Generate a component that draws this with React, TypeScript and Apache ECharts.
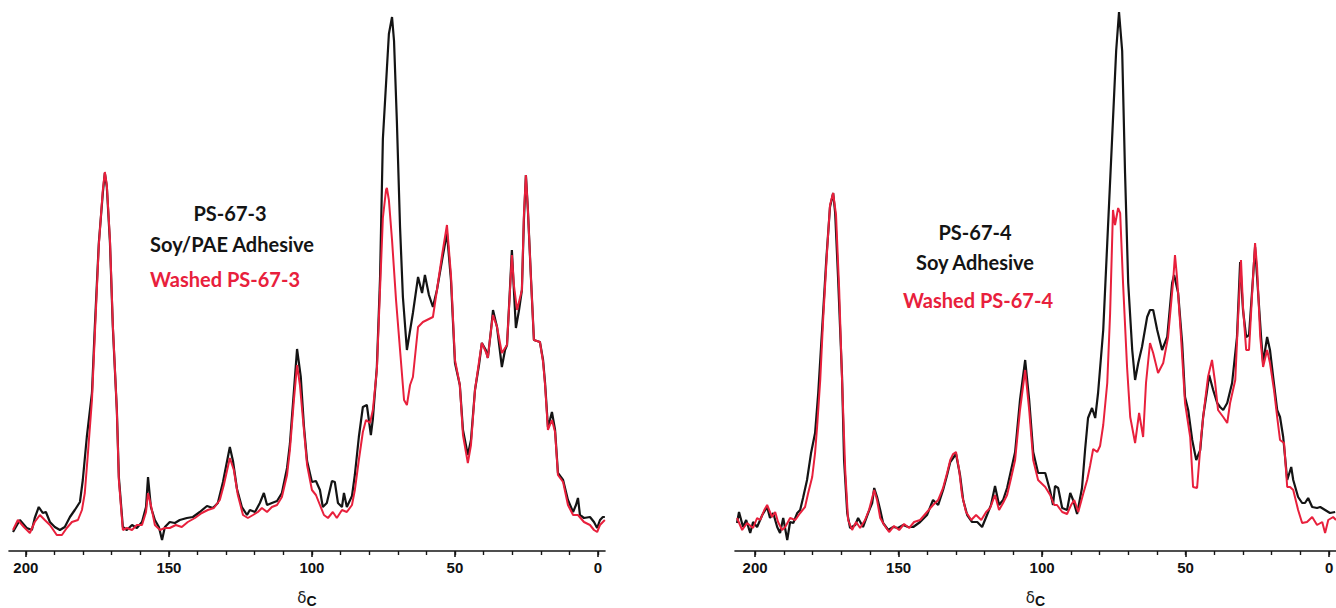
import React, { useEffect, useRef } from "react";
import * as echarts from "echarts";

// 13C CP/MAS NMR spectra: [chemical shift δC (ppm), intensity (a.u.)]
const PS673_ORIGINAL: number[][] = [
  [204.5,19],[202.1,31],[199.7,23],[197.9,21],[196.9,33],[195.5,44],[194.1,38],[193.0,39],[191.6,29],[189.9,24],
  [188.1,21],[186.4,24],[184.6,34],[182.9,41],[181.1,49],[180.1,71],[178.7,114],[176.9,158],[175.9,224],[174.5,308],
  [173.1,358],[172.4,378],[171.7,364],[170.6,308],[169.6,224],[168.2,141],[167.5,74],[166.1,24],[164.7,21],[162.9,26],
  [161.2,23],[159.4,29],[158.0,44],[157.3,74],[156.3,44],[154.9,31],[153.5,24],[152.4,11],[151.4,24],[149.7,29],
  [147.9,28],[146.2,31],[143.7,33],[141.6,34],[139.2,39],[136.7,45],[134.6,43],[132.9,48],[131.1,69],[128.7,104],
  [127.6,90],[126.2,62],[124.5,44],[122.7,36],[121.7,41],[119.9,39],[118.2,48],[116.8,58],[115.7,46],[114.0,48],
  [112.2,50],[110.5,58],[108.7,83],[107.7,107],[106.3,160],[105.2,202],[103.9,174],[102.8,125],[101.7,90],[100.0,69],
  [98.6,70],[97.2,61],[96.2,44],[94.8,48],[93.0,70],[92.0,69],[90.9,48],[89.5,44],[88.8,58],[87.8,44],
  [86.0,55],[85.0,76],[83.6,114],[82.2,144],[80.8,146],[79.4,116],[78.7,132],[77.3,184],[76.2,272],[75.2,412],
  [73.8,482],[73.1,517],[72.0,534],[71.3,510],[70.3,429],[69.2,324],[68.2,254],[66.8,201],[64.7,238],[62.9,274],
  [61.5,258],[60.5,276],[59.1,256],[57.7,244],[56.3,261],[54.5,291],[52.8,318],[51.4,271],[50.0,188],[48.3,166],
  [47.2,121],[45.5,96],[44.4,111],[43.0,161],[41.6,186],[40.6,208],[39.2,201],[38.5,193],[37.4,221],[36.7,241],
  [35.3,224],[33.6,184],[32.5,201],[31.8,206],[30.8,261],[30.1,301],[29.4,261],[28.7,223],[27.6,241],[26.6,261],
  [25.9,331],[25.2,376],[24.5,341],[23.4,271],[22.4,211],[20.3,209],[19.2,191],[18.5,168],[17.5,124],[16.8,131],
  [16.1,139],[15.0,121],[14.0,78],[12.2,71],[10.5,51],[8.7,39],[7.7,46],[7.0,53],[6.3,36],[4.9,33],
  [2.8,34],[1.4,29],[0.3,23],[-0.7,31],[-1.7,34],[-2.4,34]
];

const PS673_WASHED: number[][] = [
  [204.5,21],[202.8,31],[200.7,24],[198.6,18],[196.9,29],[195.1,36],[193.4,31],[191.6,26],[189.2,16],[187.4,16],
  [185.7,23],[183.9,29],[181.8,31],[180.4,41],[179.4,58],[178.3,98],[176.9,151],[175.9,216],[174.5,306],[173.1,361],
  [172.4,379],[171.7,366],[170.6,311],[169.6,226],[168.2,141],[167.5,71],[166.1,21],[164.7,23],[162.9,21],[161.2,26],
  [159.4,26],[158.0,39],[157.3,58],[156.3,46],[154.9,26],[153.1,21],[151.4,23],[149.7,23],[147.6,26],[145.5,24],
  [143.4,29],[140.9,33],[138.5,38],[136.4,41],[134.3,43],[132.2,51],[130.8,66],[128.7,93],[127.3,81],[125.9,56],
  [124.1,36],[122.4,33],[120.6,36],[118.9,39],[117.5,43],[115.7,39],[114.0,44],[112.2,46],[110.5,54],[108.7,76],
  [107.7,101],[106.3,151],[105.2,186],[104.2,166],[102.8,121],[101.7,86],[100.0,61],[98.6,56],[97.2,46],[95.8,36],
  [94.4,33],[92.7,39],[91.3,33],[89.5,41],[87.8,39],[86.0,46],[85.0,61],[83.6,91],[82.2,119],[81.1,131],
  [79.7,128],[78.7,141],[77.3,181],[76.2,261],[75.2,333],[74.1,361],[73.8,363],[73.1,351],[72.0,311],[70.6,251],
  [69.2,201],[67.8,151],[66.8,146],[65.7,166],[64.7,174],[62.9,224],[61.2,229],[59.8,231],[57.7,234],[56.3,261],
  [54.5,296],[52.8,326],[51.4,276],[50.0,191],[48.3,166],[47.2,116],[45.5,88],[44.4,106],[43.0,161],[41.6,189],
  [40.6,208],[39.2,199],[38.5,193],[37.4,221],[36.7,236],[35.3,224],[33.6,198],[32.5,203],[31.8,206],[30.8,259],
  [30.1,296],[29.4,266],[28.3,241],[26.6,261],[25.9,336],[25.2,376],[24.5,341],[23.4,271],[22.4,211],[20.3,209],
  [19.2,189],[18.5,166],[17.5,121],[16.1,131],[15.0,119],[14.0,76],[12.2,69],[10.5,46],[8.7,36],[7.0,36],
  [4.9,29],[2.8,26],[1.4,21],[0.3,19],[-0.7,26],[-1.7,29],[-2.4,31]
];

const PS674_ORIGINAL: number[][] = [
  [206.3,28],[205.6,39],[204.2,24],[203.1,31],[201.7,18],[200.7,29],[199.3,24],[197.5,36],[195.8,44],[194.8,33],
  [193.7,38],[192.3,24],[191.3,18],[190.2,33],[188.8,11],[187.8,29],[186.7,28],[185.3,38],[184.3,41],[183.3,53],
  [181.9,71],[180.5,98],[179.1,118],[178.0,158],[176.6,224],[175.2,291],[173.9,344],[172.8,358],[172.1,338],[171.1,274],
  [169.7,174],[169.0,91],[167.9,38],[166.9,23],[165.1,26],[164.1,33],[162.4,24],[160.6,38],[159.2,48],[158.5,63],
  [157.5,54],[156.4,41],[155.4,28],[153.6,21],[151.9,24],[150.2,23],[148.4,26],[146.7,24],[144.9,24],[142.5,29],
  [140.1,36],[138.0,51],[136.2,46],[134.5,61],[133.1,76],[132.0,89],[130.0,97],[128.6,76],[127.5,51],[126.1,36],
  [124.4,29],[122.6,29],[120.9,24],[119.2,36],[117.8,46],[116.4,65],[115.0,46],[113.6,51],[112.2,63],[110.8,81],
  [109.4,99],[107.7,151],[105.9,191],[104.5,151],[103.1,99],[101.4,78],[98.9,78],[97.2,60],[96.2,46],[95.5,65],
  [94.4,63],[93.0,43],[91.3,41],[90.2,58],[89.2,51],[87.8,37],[86.1,63],[85.0,102],[84.0,133],[82.6,143],
  [81.5,133],[80.5,158],[78.7,221],[77.3,308],[75.6,413],[74.2,500],[73.2,539],[72.1,500],[71.1,378],[70.0,268],
  [68.6,201],[67.6,171],[66.5,188],[65.2,204],[63.4,234],[62.4,241],[61.3,241],[59.9,221],[58.2,201],[56.4,214],
  [54.7,268],[54.0,276],[52.6,258],[51.2,208],[50.2,154],[49.1,141],[47.7,111],[46.3,91],[44.9,101],[43.9,134],
  [42.5,161],[41.8,176],[40.4,161],[39.0,148],[38.0,144],[36.9,141],[35.5,148],[33.8,168],[32.1,214],[31.0,289],
  [30.0,241],[28.9,214],[27.9,216],[26.5,274],[25.8,304],[25.1,274],[23.7,214],[23.0,188],[21.6,214],[20.6,201],
  [19.5,174],[18.1,141],[17.1,134],[16.0,114],[14.6,71],[13.2,84],[12.5,71],[10.8,54],[9.4,48],[8.4,48],
  [7.3,53],[5.9,44],[4.2,43],[3.1,44],[1.4,41],[-0.3,38],[-2.1,39]
];

const PS674_WASHED: number[][] = [
  [206.3,33],[204.5,21],[202.8,28],[200.7,23],[199.3,33],[198.2,31],[196.8,41],[195.8,46],[194.1,34],[193.0,39],
  [192.0,29],[190.6,21],[189.5,24],[187.8,33],[186.0,31],[184.3,38],[182.6,44],[181.5,58],[180.1,74],[179.1,98],
  [178.4,124],[177.3,171],[176.3,231],[174.9,301],[173.9,346],[172.8,358],[171.8,336],[170.7,261],[169.7,171],[168.6,81],
  [167.6,31],[166.2,21],[164.8,29],[163.4,23],[161.7,31],[160.3,41],[158.5,61],[157.5,51],[156.4,33],[155.0,26],
  [153.3,19],[151.6,25],[149.8,21],[148.1,27],[146.3,23],[144.6,29],[142.5,31],[140.1,39],[138.0,46],[136.2,51],
  [134.5,63],[133.1,78],[132.0,91],[131.0,97],[130.0,99],[128.9,81],[127.9,56],[126.5,39],[124.7,31],[123.0,36],
  [121.2,31],[119.5,39],[118.1,43],[116.4,56],[115.0,41],[113.6,48],[112.2,56],[110.8,73],[109.4,91],[107.7,141],
  [105.9,181],[104.5,141],[103.1,91],[101.4,71],[98.9,64],[97.2,56],[95.8,46],[94.8,46],[93.0,39],[91.3,37],
  [89.9,46],[88.8,51],[87.4,39],[85.7,57],[84.3,71],[83.3,85],[82.2,102],[80.8,99],[79.8,105],[78.7,126],
  [77.3,168],[76.3,238],[75.3,341],[74.6,326],[73.5,343],[72.8,338],[71.8,268],[70.4,184],[69.3,134],[67.6,108],
  [66.2,138],[64.8,114],[63.8,168],[62.4,208],[61.3,198],[59.6,178],[57.8,188],[56.1,214],[54.4,268],[53.7,296],
  [53.0,274],[51.6,214],[50.2,148],[48.4,114],[47.4,64],[46.0,63],[44.6,114],[43.6,141],[42.2,174],[40.8,191],
  [39.7,168],[38.7,141],[36.9,134],[35.5,128],[34.5,148],[32.7,171],[31.7,234],[30.7,291],[30.0,244],[28.9,201],
  [27.9,201],[26.5,274],[25.8,308],[25.1,284],[24.0,214],[23.0,184],[21.6,201],[20.6,188],[19.2,161],[18.1,134],
  [17.1,111],[15.7,108],[14.6,64],[13.6,64],[12.5,61],[10.8,41],[9.4,28],[7.7,29],[5.9,34],[4.2,26],
  [2.4,29],[1.4,18],[0.3,31],[-1.4,34],[-2.4,31]
];

const MINOR_TICKS = [0, 10, 20, 30, 40, 50, 60, 70, 80, 90, 100, 110, 120, 130, 140, 150, 160, 170, 180, 190, 200];
const MAJOR_TICKS = [0, 50, 100, 150, 200];

const LEFT_RANGE = { min: -2.45, max: 205.9 };
const RIGHT_RANGE = { min: -2.4, max: 207.0 };

const PANEL_LABELS = [
  { lines: ["PS-67-3", "Soy/PAE Adhesive"], washed: "Washed PS-67-3" },
  { lines: ["PS-67-4", "Soy Adhesive"], washed: "Washed PS-67-4" },
];

const BLACK = "#141414";
const RED = "#e8203c";

function buildXAxes(gridIndex: number, range: { min: number; max: number }) {
  const common = {
    type: "value" as const,
    gridIndex,
    min: range.min,
    max: range.max,
    inverse: true,
    position: "bottom" as const,
    splitLine: { show: false },
  };
  return [
    {
      ...common,
      axisLine: { show: true, onZero: false, lineStyle: { color: BLACK, width: 1.6 } },
      axisTick: { show: true, customValues: MINOR_TICKS, length: 4, inside: false, lineStyle: { color: BLACK, width: 1.4 } },
      axisLabel: { show: false },
    },
    {
      ...common,
      axisLine: { show: false, onZero: false },
      axisTick: { show: true, customValues: MAJOR_TICKS, length: 6, inside: false, lineStyle: { color: BLACK, width: 1.6 } },
      axisLabel: {
        show: true,
        customValues: MAJOR_TICKS,
        margin: 9,
        color: "#111",
        fontSize: 15,
        fontWeight: "bold",
        fontFamily: "Liberation Sans, Arial, sans-serif",
      },
      name: "{d|δ}{c|C}",
      nameLocation: "middle",
      nameGap: 39,
      nameTextStyle: {
        rich: {
          d: { fontSize: 15, color: "#222", fontFamily: "DejaVu Sans, sans-serif", verticalAlign: "top", lineHeight: 18 },
          c: { fontSize: 14, color: "#111", fontWeight: "bold", fontFamily: "Liberation Sans, Arial, sans-serif", verticalAlign: "bottom", lineHeight: 18, padding: [7, 0, 0, 0] },
        },
      },
    },
  ];
}

export default function App() {
  const ref = useRef<HTMLDivElement>(null);

  useEffect(() => {
    document.body.style.margin = "0";
    if (!ref.current) return;
    const chart = echarts.init(ref.current, undefined, { renderer: "svg" });

    const textFont = "bold 20px Lato, 'Open Sans', sans-serif";
    const mkText = (text: string, x: number, y: number, fill: string) => ({
      type: "text",
      x,
      y,
      style: { text, fill, font: textFont, textAlign: "center", textVerticalAlign: "middle" },
    });

    const option = {
      animation: false,
      backgroundColor: "#ffffff",
      grid: [
        { left: 9, width: 596, top: 0, height: 551, outerBoundsMode: "none", containLabel: false },
        { left: 735, width: 601, top: 0, height: 551, outerBoundsMode: "none", containLabel: false },
      ],
      xAxis: [...buildXAxes(0, LEFT_RANGE), ...buildXAxes(1, RIGHT_RANGE)],
      yAxis: [
        { type: "value", gridIndex: 0, min: 0, max: 551, show: false },
        { type: "value", gridIndex: 1, min: 0, max: 551, show: false },
      ],
      series: [
        { name: "PS-67-3", type: "line", xAxisIndex: 0, yAxisIndex: 0, data: PS673_ORIGINAL, showSymbol: false, lineStyle: { color: BLACK, width: 2.2 }, z: 2 },
        { name: "Washed PS-67-3", type: "line", xAxisIndex: 0, yAxisIndex: 0, data: PS673_WASHED, showSymbol: false, lineStyle: { color: RED, width: 2 }, z: 3 },
        { name: "PS-67-4", type: "line", xAxisIndex: 2, yAxisIndex: 1, data: PS674_ORIGINAL, showSymbol: false, lineStyle: { color: BLACK, width: 2.2 }, z: 2 },
        { name: "Washed PS-67-4", type: "line", xAxisIndex: 2, yAxisIndex: 1, data: PS674_WASHED, showSymbol: false, lineStyle: { color: RED, width: 2 }, z: 3 },
      ],
      graphic: [
        mkText(PANEL_LABELS[0].lines[0], 230, 213, BLACK),
        mkText(PANEL_LABELS[0].lines[1], 232, 244, BLACK),
        mkText(PANEL_LABELS[0].washed, 225, 279, RED),
        mkText(PANEL_LABELS[1].lines[0], 975, 232, BLACK),
        mkText(PANEL_LABELS[1].lines[1], 975, 262, BLACK),
        mkText(PANEL_LABELS[1].washed, 978, 300, RED),
      ],
    };

    chart.setOption(option as any);
    return () => chart.dispose();
  }, []);

  return <div ref={ref} style={{ width: 1336, height: 608 }} />;
}
